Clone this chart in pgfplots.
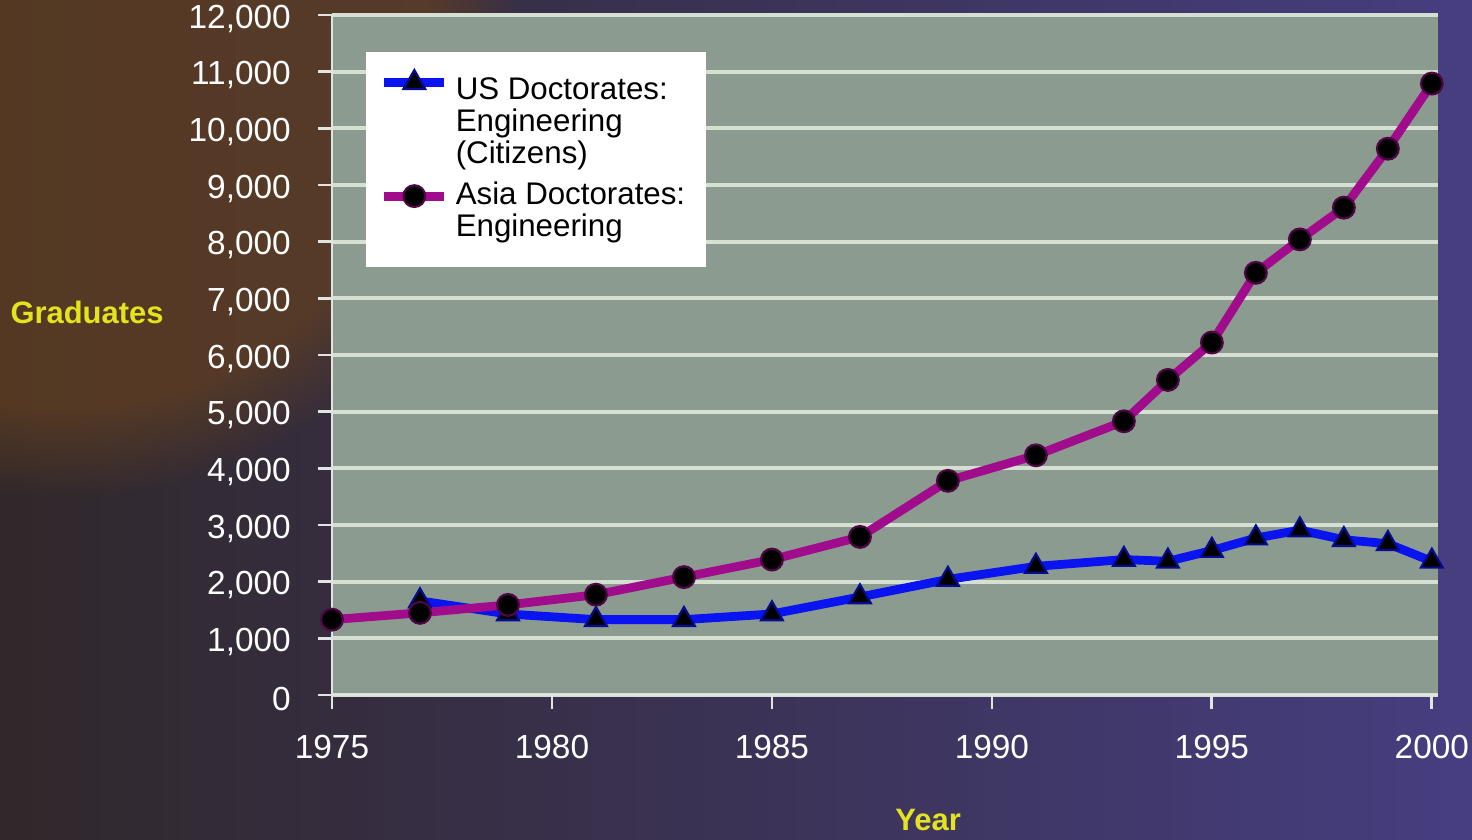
\documentclass[border=0pt]{standalone}
\usepackage{pgfplots}
\pgfplotsset{compat=1.18}
\usepackage{fontspec}
\setmainfont{Liberation Sans}
\usetikzlibrary{fadings}

\definecolor{plotbg}{RGB}{140,155,143}
\definecolor{gridc}{RGB}{214,224,210}
\definecolor{usblue}{RGB}{10,20,240}
\definecolor{asiamag}{RGB}{160,12,140}
\definecolor{labyel}{RGB}{228,228,30}
\definecolor{bgleft}{RGB}{48,40,42}
\definecolor{bgright}{RGB}{70,62,128}
\definecolor{bgbrown}{RGB}{100,64,32}
\definecolor{tickc}{RGB}{225,228,225}

\begin{document}
\begin{tikzpicture}
\useasboundingbox (0,0) rectangle (14.72,8.39);
% slide background
\begin{scope}
\clip (0,0) rectangle (14.72,8.39);
\shade[left color=bgleft, right color=bgright] (0,0) rectangle (14.72,8.39);
\fill[bgbrown, path fading=circle with fuzzy edge 20 percent, fill opacity=0.7] (0.6,8.0) circle (4.6);
\end{scope}
\begin{axis}[
    at={(3.32cm,1.44cm)}, anchor=south west,
    scale only axis, width=11.06cm, height=6.80cm,
    xmin=1975, xmax=2000.14, ymin=0, ymax=12000,
    xtick={1975,1980,...,2000},
    ytick={0,1000,...,12000},
    axis x line*=bottom, axis y line*=left,
    axis line style={tickc, line width=0.8pt},
    tick align=outside, major tick length=4pt,
    tick style={tickc, line width=0.8pt},
    axis background/.style={fill=plotbg},
    ymajorgrids, grid style={gridc, line width=1.1pt},
    scaled y ticks=false,
    /pgf/number format/.cd, 1000 sep={,}, assume math mode=true,
    /pgfplots/.cd,
    xticklabel={\pgfmathprintnumber[1000 sep={}]{\tick}},
    ticklabel style={font=\fontsize{9.5}{11}\selectfont, text=white},
    xticklabel style={yshift=-4pt},
    yticklabel style={xshift=-4.2pt, yshift=-1pt},
    xlabel={Year}, ylabel={Graduates},
    every axis x label/.style={at={(axis description cs:0.539,-0.184)}, anchor=center,
        font=\fontsize{8.8}{11}\selectfont\bfseries, text=labyel},
    every axis y label/.style={at={(axis description cs:-0.2215,0.563)}, anchor=center,
        font=\fontsize{8.8}{11}\selectfont\bfseries, text=labyel},
    legend style={at={(axis description cs:0.03,0.946)}, anchor=north west,
        fill=white, draw=none, inner xsep=4pt, inner ysep=5pt,
        font=\fontsize{8.9}{9.1}\selectfont, text=black,
        cells={align=left}, row sep=-0.2pt},
    legend cell align=left,
]
\addplot[usblue, line width=2.5pt, mark=triangle*, mark size=3.6pt,
    mark options={fill=black, draw=usblue!60!black, line width=0.6pt},
    legend image post style={yshift=11.6pt}]
  coordinates {(1977,1660) (1979,1430) (1981,1330) (1983,1330) (1985,1430)
    (1987,1730) (1989,2040) (1991,2270) (1993,2390) (1994,2360) (1995,2550)
    (1996,2770) (1997,2910) (1998,2740) (1999,2670) (2000,2360)};
\addlegendentry{US Doctorates:\\Engineering\\(Citizens)}
\addplot[asiamag, line width=2.5pt, mark=*, mark size=3.1pt,
    mark options={fill=black, draw=asiamag!50!black, line width=0.6pt},
    legend image post style={yshift=4.6pt}]
  coordinates {(1975,1330) (1977,1450) (1979,1590) (1981,1770) (1983,2080)
    (1985,2390) (1987,2790) (1989,3780) (1991,4230) (1993,4830) (1994,5560)
    (1995,6220) (1996,7450) (1997,8040) (1998,8600) (1999,9640) (2000,10790)};
\addlegendentry{Asia Doctorates:\\Engineering}
\end{axis}
\end{tikzpicture}
\end{document}
